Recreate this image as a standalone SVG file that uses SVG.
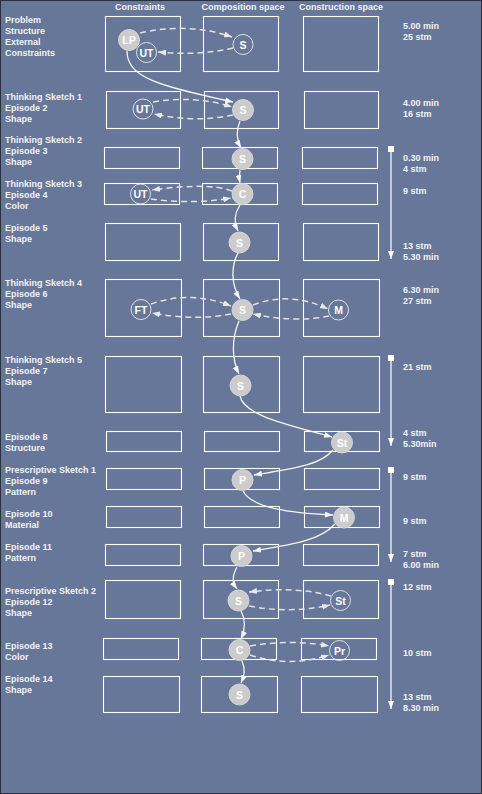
<svg xmlns="http://www.w3.org/2000/svg" width="482" height="794" viewBox="0 0 482 794">
<defs>
<style>
.bg{fill:#66779a;stroke:#2a2f3a;stroke-width:1}
.box{fill:none;stroke:#ffffff;stroke-width:1.1}
.lbl{font-family:"Liberation Sans",Arial,sans-serif;font-size:9px;font-weight:bold;fill:#f2f2f2}
.hdr{font-family:"Liberation Sans",Arial,sans-serif;font-size:9px;font-weight:bold;fill:#f2f2f2;text-anchor:middle}
.nf{fill:#cccccc;stroke:#d6d6d6;stroke-width:1}
.no{fill:none;stroke:#e0e0e0;stroke-width:1}
.nt{font-family:"Liberation Sans",Arial,sans-serif;font-size:10.5px;font-weight:bold;fill:#ffffff;text-anchor:middle}
.sol{fill:none;stroke:#f4f4f4;stroke-width:1.3;marker-end:url(#as)}
.dsh{fill:none;stroke:#e2e2e2;stroke-width:1.5;stroke-dasharray:6 4;marker-end:url(#ad)}
.bar{stroke:#ffffff;stroke-width:1.2;marker-end:url(#ab)}
</style>
<marker id="as" viewBox="0 0 8 6" refX="8" refY="3" markerWidth="8" markerHeight="6" markerUnits="userSpaceOnUse" orient="auto"><path d="M0,0 L8,3 L0,6 Z" fill="#f4f4f4"/></marker>
<marker id="ad" viewBox="0 0 8 6" refX="8" refY="3" markerWidth="8" markerHeight="6" markerUnits="userSpaceOnUse" orient="auto"><path d="M0,0 L8,3 L0,6 Z" fill="#e8e8e8"/></marker>
<marker id="ab" viewBox="0 0 6 8" refX="3" refY="8" markerWidth="6" markerHeight="8" markerUnits="userSpaceOnUse" orient="0"><path d="M0,0 L6,0 L3,8 Z" fill="#ffffff"/></marker>
</defs>
<rect class="bg" x="0.5" y="0.5" width="481" height="793"/>

<g id="headers">
<text class="hdr" x="140" y="10">Constraints</text>
<text class="hdr" x="243" y="10">Composition space</text>
<text class="hdr" x="341" y="10">Construction space</text>
</g>

<g id="boxes">
<rect class="box" x="105.5" y="16.5" width="75" height="55"/><rect class="box" x="203.5" y="16.5" width="75" height="55"/><rect class="box" x="303.5" y="16.5" width="75" height="55"/>
<rect class="box" x="106.5" y="91.5" width="74" height="37"/><rect class="box" x="204.5" y="91.5" width="74" height="37"/><rect class="box" x="304.5" y="91.5" width="74" height="37"/>
<rect class="box" x="104.5" y="147.5" width="75" height="21"/><rect class="box" x="202.5" y="147.5" width="75" height="21"/><rect class="box" x="302.5" y="147.5" width="75" height="21"/>
<rect class="box" x="104.5" y="183.5" width="75" height="21"/><rect class="box" x="202.5" y="183.5" width="75" height="21"/><rect class="box" x="302.5" y="183.5" width="75" height="21"/>
<rect class="box" x="105.5" y="223.5" width="75" height="37"/><rect class="box" x="203.5" y="223.5" width="75" height="37"/><rect class="box" x="303.5" y="223.5" width="75" height="37"/>
<rect class="box" x="105.5" y="279.5" width="76" height="57"/><rect class="box" x="203.5" y="279.5" width="76" height="57"/><rect class="box" x="303.5" y="279.5" width="76" height="57"/>
<rect class="box" x="105.5" y="356.5" width="76" height="56"/><rect class="box" x="203.5" y="356.5" width="76" height="56"/><rect class="box" x="303.5" y="356.5" width="76" height="56"/>
<rect class="box" x="106.5" y="431.5" width="75" height="20"/><rect class="box" x="204.5" y="431.5" width="75" height="20"/><rect class="box" x="304.5" y="431.5" width="75" height="20"/>
<rect class="box" x="106.5" y="468.5" width="75" height="21"/><rect class="box" x="204.5" y="468.5" width="75" height="21"/><rect class="box" x="304.5" y="468.5" width="75" height="21"/>
<rect class="box" x="106.5" y="506.5" width="75" height="21"/><rect class="box" x="204.5" y="506.5" width="75" height="21"/><rect class="box" x="304.5" y="506.5" width="75" height="21"/>
<rect class="box" x="105.5" y="544.5" width="75" height="21"/><rect class="box" x="203.5" y="544.5" width="75" height="21"/><rect class="box" x="303.5" y="544.5" width="75" height="21"/>
<rect class="box" x="105.5" y="580.5" width="75" height="38"/><rect class="box" x="203.5" y="580.5" width="75" height="38"/><rect class="box" x="303.5" y="580.5" width="75" height="38"/>
<rect class="box" x="103.5" y="638.5" width="75" height="21"/><rect class="box" x="201.5" y="638.5" width="75" height="21"/><rect class="box" x="301.5" y="638.5" width="75" height="21"/>
<rect class="box" x="103.5" y="676.5" width="76" height="36"/><rect class="box" x="201.5" y="676.5" width="76" height="36"/><rect class="box" x="301.5" y="676.5" width="76" height="36"/>
</g>

<g id="row-labels">
<text class="lbl" x="5" y="22.5">Problem</text><text class="lbl" x="5" y="33.5">Structure</text><text class="lbl" x="5" y="44.5">External</text><text class="lbl" x="5" y="55.5">Constraints</text>
<text class="lbl" x="5" y="99.5">Thinking Sketch 1</text><text class="lbl" x="5" y="110.5">Episode 2</text><text class="lbl" x="5" y="121.5">Shape</text>
<text class="lbl" x="5" y="142.5">Thinking Sketch 2</text><text class="lbl" x="5" y="153.5">Episode 3</text><text class="lbl" x="5" y="164.5">Shape</text>
<text class="lbl" x="5" y="187">Thinking Sketch 3</text><text class="lbl" x="5" y="198">Episode 4</text><text class="lbl" x="5" y="209">Color</text>
<text class="lbl" x="5" y="231">Episode 5</text><text class="lbl" x="5" y="242">Shape</text>
<text class="lbl" x="5" y="286">Thinking Sketch 4</text><text class="lbl" x="5" y="297">Episode 6</text><text class="lbl" x="5" y="308">Shape</text>
<text class="lbl" x="5" y="363">Thinking Sketch 5</text><text class="lbl" x="5" y="374">Episode 7</text><text class="lbl" x="5" y="385">Shape</text>
<text class="lbl" x="5" y="440">Episode 8</text><text class="lbl" x="5" y="451">Structure</text>
<text class="lbl" x="5" y="473">Prescriptive Sketch 1</text><text class="lbl" x="5" y="484">Episode 9</text><text class="lbl" x="5" y="495">Pattern</text>
<text class="lbl" x="5" y="517">Episode 10</text><text class="lbl" x="5" y="528">Material</text>
<text class="lbl" x="5" y="550">Episode 11</text><text class="lbl" x="5" y="561">Pattern</text>
<text class="lbl" x="5" y="594">Prescriptive Sketch 2</text><text class="lbl" x="5" y="605">Episode 12</text><text class="lbl" x="5" y="616">Shape</text>
<text class="lbl" x="5" y="649">Episode 13</text><text class="lbl" x="5" y="660">Color</text>
<text class="lbl" x="5" y="682">Episode 14</text><text class="lbl" x="5" y="693">Shape</text>
</g>

<g id="time-labels">
<text class="lbl" x="403" y="29">5.00 min</text><text class="lbl" x="403" y="40">25 stm</text>
<text class="lbl" x="403" y="106">4.00 min</text><text class="lbl" x="403" y="117">16 stm</text>
<text class="lbl" x="403" y="160.5">0.30 min</text><text class="lbl" x="403" y="172">4 stm</text>
<text class="lbl" x="403" y="194">9 stm</text>
<text class="lbl" x="403" y="249">13 stm</text><text class="lbl" x="403" y="260">5.30 min</text>
<text class="lbl" x="403" y="293">6.30 min</text><text class="lbl" x="403" y="304">27 stm</text>
<text class="lbl" x="403" y="370">21 stm</text>
<text class="lbl" x="403" y="436">4 stm</text><text class="lbl" x="403" y="447">5.30min</text>
<text class="lbl" x="403" y="480">9 stm</text>
<text class="lbl" x="403" y="524">9 stm</text>
<text class="lbl" x="403" y="557">7 stm</text><text class="lbl" x="403" y="568">6.00 min</text>
<text class="lbl" x="403" y="590">12 stm</text>
<text class="lbl" x="403" y="656">10 stm</text>
<text class="lbl" x="403" y="700">13 stm</text><text class="lbl" x="403" y="710.5">8.30 min</text>
</g>

<g id="timelines">
<rect x="388" y="146" width="6" height="6" fill="#ffffff"/><line class="bar" x1="391" y1="150" x2="391" y2="259"/>
<rect x="388" y="355" width="6" height="6" fill="#ffffff"/><line class="bar" x1="391" y1="359" x2="391" y2="446"/>
<rect x="388" y="467" width="6" height="6" fill="#ffffff"/><line class="bar" x1="391" y1="471" x2="391" y2="562"/>
<rect x="388" y="579" width="6" height="6" fill="#ffffff"/><line class="bar" x1="391" y1="583" x2="391" y2="709"/>
</g>

<g id="connectors">
<path class="sol" d="M127,51 C127,78 160,86 233,102"/>
<path class="sol" d="M240,121 C235,133 237,141 241,148"/>
<path class="sol" d="M240,170 C239,175 239,178 240,183"/>
<path class="sol" d="M240,205 C234,214 234,223 238,231"/>
<path class="sol" d="M238,253 C230,268 232,286 240,299"/>
<path class="sol" d="M239,321 C231,340 232,360 239,374"/>
<path class="sol" d="M240,396 C244,416 290,425 332,437"/>
<path class="sol" d="M333,450 C320,466 290,469 254,475"/>
<path class="sol" d="M243,491 C252,508 290,513 333,515"/>
<path class="sol" d="M335,524 C320,541 290,545 253,551"/>
<path class="sol" d="M237,567 C232,576 232,582 237,589"/>
<path class="sol" d="M241,611 C246,620 245,630 241,639"/>
<path class="sol" d="M242,661 C246,670 244,676 241,683"/>

<path class="dsh" d="M140,33 Q188,22 232,37"/>
<path class="dsh" d="M233,48 Q200,56 158,52"/>
<path class="dsh" d="M153,102 Q195,95 232,107"/>
<path class="dsh" d="M233,115 Q195,123 154,114"/>
<path class="dsh" d="M232,191 C215,184 180,186 152,190"/>
<path class="dsh" d="M151,199 C180,203 210,202 231,198"/>
<path class="dsh" d="M151,304 Q190,290 231,306"/>
<path class="dsh" d="M231,314 Q195,321 152,313"/>
<path class="dsh" d="M253,305 Q290,291 328,309"/>
<path class="dsh" d="M329,316 Q295,323 253,314"/>
<path class="dsh" d="M331,596 Q295,586 249,592"/>
<path class="dsh" d="M249,606 Q290,614 330,605"/>
<path class="dsh" d="M250,646 Q290,639 329,646"/>
<path class="dsh" d="M250,655 Q290,668 329,655"/>
</g>

<g id="n1-LP"><circle class="nf" cx="129" cy="40" r="10.5"/><text class="nt" x="129" y="44">LP</text></g>
<g id="n1-UT"><circle class="no" cx="146.5" cy="52.5" r="10"/><text class="nt" x="146.5" y="56.5">UT</text></g>
<g id="n1-S"><circle class="no" cx="243" cy="44.5" r="10"/><text class="nt" x="243" y="48.5">S</text></g>
<g id="n2-UT"><circle class="no" cx="143" cy="109" r="10"/><text class="nt" x="143" y="113">UT</text></g>
<g id="n2-S"><circle class="nf" cx="243" cy="110" r="10.5"/><text class="nt" x="243" y="114">S</text></g>
<g id="n3-S"><circle class="nf" cx="242.5" cy="159" r="10.5"/><text class="nt" x="242.5" y="163">S</text></g>
<g id="n4-UT"><circle class="no" cx="140.5" cy="194" r="10"/><text class="nt" x="140.5" y="198">UT</text></g>
<g id="n4-C"><circle class="nf" cx="242.5" cy="194" r="10.5"/><text class="nt" x="242.5" y="198">C</text></g>
<g id="n5-S"><circle class="nf" cx="239.5" cy="242.5" r="10.5"/><text class="nt" x="239.5" y="246.5">S</text></g>
<g id="n6-FT"><circle class="no" cx="141" cy="309.5" r="10"/><text class="nt" x="141" y="313.5">FT</text></g>
<g id="n6-S"><circle class="nf" cx="242.5" cy="310" r="10.5"/><text class="nt" x="242.5" y="314">S</text></g>
<g id="n6-M"><circle class="no" cx="338.5" cy="310" r="10"/><text class="nt" x="338.5" y="314">M</text></g>
<g id="n7-S"><circle class="nf" cx="240.5" cy="385.5" r="10.5"/><text class="nt" x="240.5" y="389.5">S</text></g>
<g id="n8-St"><circle class="nf" cx="342" cy="442.5" r="10.5"/><text class="nt" x="342" y="446.5">St</text></g>
<g id="n9-P"><circle class="nf" cx="242.5" cy="480" r="10.5"/><text class="nt" x="242.5" y="484">P</text></g>
<g id="n10-M"><circle class="nf" cx="344" cy="517.5" r="10.5"/><text class="nt" x="344" y="521.5">M</text></g>
<g id="n11-P"><circle class="nf" cx="241.5" cy="556" r="10.5"/><text class="nt" x="241.5" y="560">P</text></g>
<g id="n12-S"><circle class="nf" cx="238.5" cy="600.5" r="10.5"/><text class="nt" x="238.5" y="604.5">S</text></g>
<g id="n12-St"><circle class="no" cx="340.5" cy="600.5" r="10"/><text class="nt" x="340.5" y="604.5">St</text></g>
<g id="n13-C"><circle class="nf" cx="239.5" cy="650" r="10.5"/><text class="nt" x="239.5" y="654">C</text></g>
<g id="n13-Pr"><circle class="no" cx="339.5" cy="650.5" r="10"/><text class="nt" x="339.5" y="654.5">Pr</text></g>
<g id="n14-S"><circle class="nf" cx="239.5" cy="694.5" r="10.5"/><text class="nt" x="239.5" y="698.5">S</text></g>
</svg>
